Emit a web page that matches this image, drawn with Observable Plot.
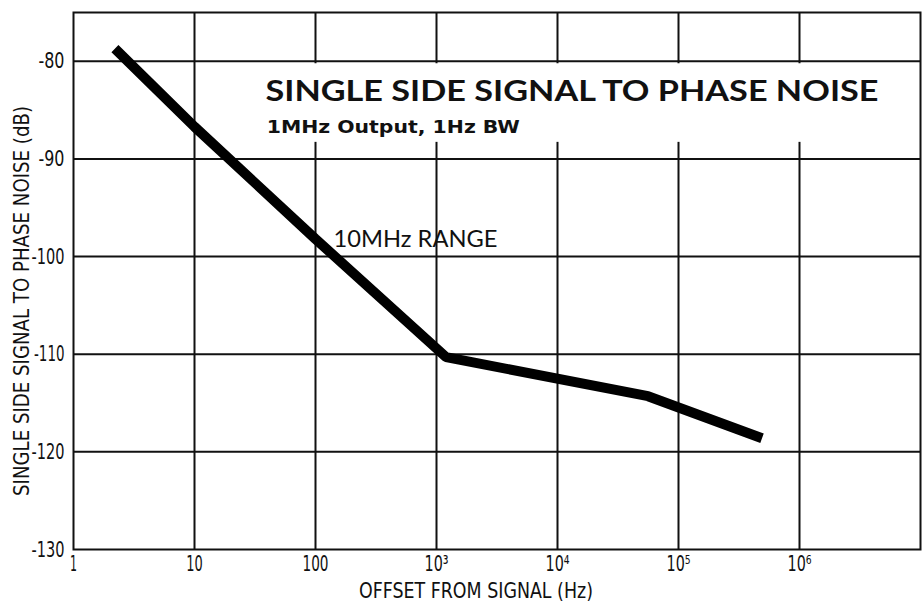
<!DOCTYPE html>
<html>
<head>
<meta charset="utf-8">
<script src="https://cdn.jsdelivr.net/npm/d3@7"></script>
<script src="https://cdn.jsdelivr.net/npm/@observablehq/plot@0.6"></script>
<style>
  html, body { margin: 0; padding: 0; background: #fff; }
  #chart { width: 922px; height: 606px; }
</style>
</head>
<body>
<div id="chart"></div>
<script>
// Data
const offsetHz = [2.2, 10, 100, 1200, 56000, 490000];
const noiseDb = [-78.7, -86.7, -98.2, -110.3, -114.3, -118.6];

const xTicks = [1, 10, 100, 1e3, 1e4, 1e5, 1e6];
const xTickLabels = ["1", "10", "100", "10³", "10⁴", "10⁵", "10⁶"];
const xGrid = [10, 100, 1e3, 1e4, 1e5, 1e6];
const yTicks = [-130, -120, -110, -100, -90, -80];
const yGrid = [-120, -110, -100, -90, -80];

const titleText = "SINGLE SIDE SIGNAL TO PHASE NOISE";
const subtitleText = "1MHz Output, 1Hz BW";
const curveLabel = "10MHz RANGE";
const xLabel = "OFFSET FROM SIGNAL (Hz)";
const yLabel = "SINGLE SIDE SIGNAL TO PHASE NOISE (dB)";

// annotation anchors (data units)
const titleAnchor = {x: 38.6, y: -84.1};
const subtitleAnchor = {x: 39.5, y: -87.3};
const curveLabelAnchor = {x: 141, y: -99};
const titleBox = {x1: 32, x2: 1e7, y1: -88.3, y2: -80.25};

const data = offsetHz.map((f, i) => ({f, db: noiseDb[i]}));

const narrow = "'Liberation Sans Narrow', 'DejaVu Sans Condensed', 'Arial Narrow', sans-serif";
const geo = "Lato, 'Open Sans', sans-serif";

const plot = Plot.plot({
  width: 922,
  height: 606,
  marginLeft: 73,
  marginRight: 2,
  marginTop: 12,
  marginBottom: 57,
  style: {background: "#fff", fontFamily: narrow, color: "#111"},
  x: {type: "log", domain: [1, 1e7], ticks: xTicks,
      tickFormat: d => xTickLabels[xTicks.indexOf(d)] ?? "", label: null},
  y: {domain: [-130, -75], ticks: yTicks, label: null},
  marks: [
    Plot.ruleX(xGrid, {stroke: "#111", strokeWidth: 2}),
    Plot.ruleY(yGrid, {stroke: "#111", strokeWidth: 2}),
    Plot.rect([titleBox], {x1: "x1", x2: "x2", y1: "y1", y2: "y2", fill: "#fff"}),
    Plot.line(data, {x: "f", y: "db", stroke: "#000", strokeWidth: 10,
      strokeLinejoin: "miter", strokeLinecap: "butt"}),
    Plot.text([titleText], {x: titleAnchor.x, y: titleAnchor.y, text: d => d,
      textAnchor: "start", lineAnchor: "bottom", fontSize: 28, fontWeight: 700,
      fontFamily: geo, fill: "#111"}),
    Plot.text([subtitleText], {x: subtitleAnchor.x, y: subtitleAnchor.y, text: d => d,
      textAnchor: "start", lineAnchor: "bottom", fontSize: 18, fontWeight: 700,
      fontFamily: narrow, fill: "#111"}),
    Plot.text([curveLabel], {x: curveLabelAnchor.x, y: curveLabelAnchor.y, text: d => d,
      textAnchor: "start", lineAnchor: "bottom", fontSize: 23, fontWeight: 400,
      fontFamily: geo, fill: "#111"}),
    Plot.axisX({ticks: xTicks, tickFormat: d => xTickLabels[xTicks.indexOf(d)] ?? "",
      tickSize: 0, tickPadding: 6, label: null}),
    Plot.axisY({ticks: yTicks, tickFormat: d => String(d), tickSize: 0, tickPadding: 9,
      label: null}),
    Plot.text([xLabel], {frameAnchor: "bottom", text: d => d, dx: -21, dy: 48,
      textAnchor: "middle", fontSize: 22, fontWeight: 500, fontFamily: narrow, fill: "#111"}),
    Plot.text([yLabel], {frameAnchor: "left", text: d => d, dx: -51, dy: 20,
      textAnchor: "middle", rotate: -90, fontSize: 21, fontWeight: 500, fontFamily: narrow, fill: "#111"}),
    Plot.frame({stroke: "#111", strokeWidth: 2})
  ]
});

// fit annotation widths to the reference
const targetWidths = new Map([
  [titleText, 613], [subtitleText, 253], [curveLabel, 164], [xLabel, 234], [yLabel, 390]
]);
plot.querySelectorAll("text").forEach(t => {
  const w = targetWidths.get(t.textContent);
  if (w) { t.setAttribute("textLength", w); t.setAttribute("lengthAdjust", "spacingAndGlyphs"); }
});
// condensed, larger tick lettering, as in the reference
const charW = ch => ch === "-" ? 7 : ch === "1" ? 7 : /[⁰-⁹³²¹]/.test(ch) ? 7.5 : 9.5;
plot.querySelectorAll('g[aria-label="y-axis tick label"], g[aria-label="x-axis tick label"]')
  .forEach(g => { g.setAttribute("font-size", 22); g.style.fontSize = "22px"; g.style.fontWeight = "500"; });
plot.querySelectorAll('g[aria-label="y-axis tick label"] text, g[aria-label="x-axis tick label"] text')
  .forEach(t => {
    const s = t.textContent;
    const w = [...s].reduce((a, ch) => a + charW(ch), 0);
    t.style.fontSize = "22px";
    t.setAttribute("textLength", w);
    t.setAttribute("lengthAdjust", "spacingAndGlyphs");
  });
document.getElementById("chart").append(plot);
</script>
</body>
</html>
